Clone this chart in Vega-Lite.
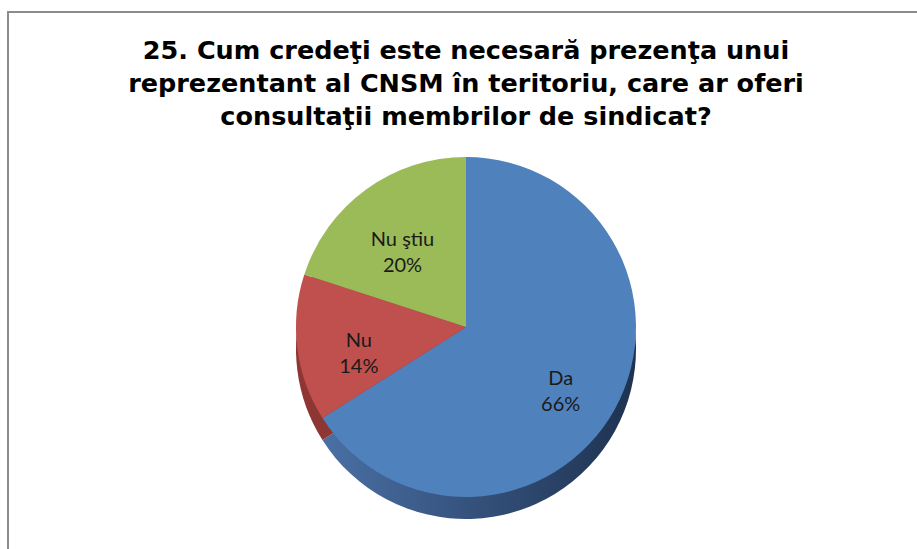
{
  "$schema": "https://vega.github.io/schema/vega-lite/v6.json",
  "width": 916,
  "height": 630,
  "autosize": {"type": "none"},
  "padding": {"left": 8, "top": 12, "right": 0, "bottom": 0},
  "background": "white",
  "view": {"stroke": "#8c8c8c", "strokeWidth": 2},
  "title": {
    "text": ["25. Cum credeţi este necesară prezenţa unui", "reprezentant al CNSM în teritoriu, care ar oferi", "consultaţii membrilor de sindicat?"],
    "font": "DejaVu Sans",
    "fontSize": 25.5,
    "fontWeight": "bold",
    "color": "#000000",
    "lineHeight": 33,
    "anchor": "middle",
    "offset": -118
  },
  "data": {
    "values": [
      {"cat": "Da", "pct": 66, "ord": 1, "label": "Da\n66%"},
      {"cat": "Nu", "pct": 14, "ord": 2, "label": "Nu\n14%"},
      {"cat": "Nu ştiu", "pct": 20, "ord": 3, "label": "Nu ştiu\n20%"}
    ]
  },
  "encoding": {
    "theta": {"field": "pct", "type": "quantitative", "stack": true},
    "order": {"field": "ord", "type": "quantitative"}
  },
  "layer": [
    {
      "mark": {"type": "arc", "radius": 170, "yOffset": 22, "stroke": null},
      "encoding": {
        "fill": {
          "condition": {
            "test": "datum.cat === 'Da'",
            "value": {
              "gradient": "linear", "x1": 0, "x2": 1, "y1": 0, "y2": 0,
              "stops": [
                {"offset": 0, "color": "#4a70a5"},
                {"offset": 0.5, "color": "#34507a"},
                {"offset": 1, "color": "#1e3250"}
              ]
            }
          },
          "value": "#8e3633"
        }
      }
    },
    {
      "mark": {"type": "arc", "radius": 170, "stroke": null},
      "encoding": {
        "color": {
          "field": "cat",
          "type": "nominal",
          "scale": {"domain": ["Da", "Nu", "Nu ştiu"], "range": ["#4f81bd", "#c0504d", "#9bbb59"]},
          "legend": null
        }
      }
    },
    {
      "mark": {"type": "text", "radius": 108, "font": "Lato", "fontSize": 20, "color": "#1a1a1a", "lineBreak": "\n", "lineHeight": 26, "align": "center", "baseline": "middle"},
      "encoding": {
        "text": {"field": "label", "type": "nominal"}
      }
    }
  ]
}
